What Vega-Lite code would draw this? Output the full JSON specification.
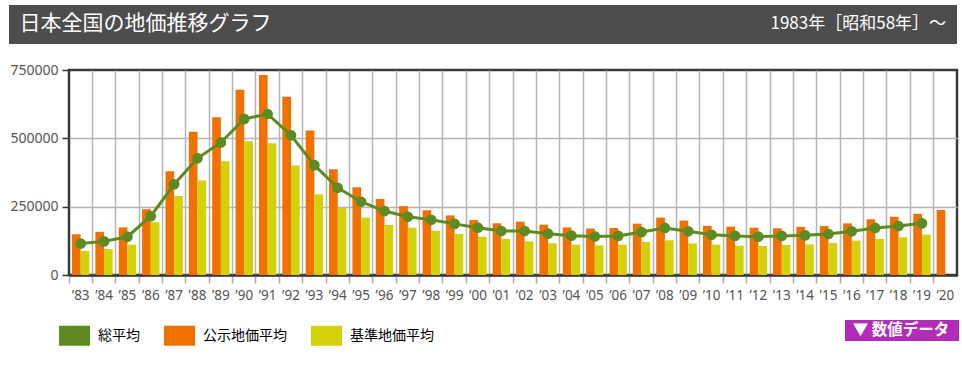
{
  "$schema": "https://vega.github.io/schema/vega-lite/v6.json",
  "autosize": {"type": "none"},
  "padding": {"left": 69, "top": 70, "right": 5, "bottom": 96},
  "width": 888,
  "height": 205,
  "background": "white",
  "config": {
    "font": "Noto Sans CJK JP",
    "view": {"stroke": "#3a3a3a", "strokeWidth": 2.5}
  },
  "datasets": {
    "land": [
      {"year": "’83", "kouji": 149000, "kijun": 88000, "avg": 115000},
      {"year": "’84", "kouji": 158000, "kijun": 95000, "avg": 123000},
      {"year": "’85", "kouji": 174000, "kijun": 111000, "avg": 140000},
      {"year": "’86", "kouji": 241000, "kijun": 193000, "avg": 215000},
      {"year": "’87", "kouji": 380000, "kijun": 289000, "avg": 332000},
      {"year": "’88", "kouji": 524000, "kijun": 346000, "avg": 427000},
      {"year": "’89", "kouji": 577000, "kijun": 416000, "avg": 485000},
      {"year": "’90", "kouji": 678000, "kijun": 489000, "avg": 571000},
      {"year": "’91", "kouji": 732000, "kijun": 482000, "avg": 589000},
      {"year": "’92", "kouji": 652000, "kijun": 401000, "avg": 511000},
      {"year": "’93", "kouji": 529000, "kijun": 295000, "avg": 402000},
      {"year": "’94", "kouji": 387000, "kijun": 245000, "avg": 319000},
      {"year": "’95", "kouji": 321000, "kijun": 210000, "avg": 268000},
      {"year": "’96", "kouji": 278000, "kijun": 183000, "avg": 234000},
      {"year": "’97", "kouji": 252000, "kijun": 173000, "avg": 213000},
      {"year": "’98", "kouji": 237000, "kijun": 162000, "avg": 202000},
      {"year": "’99", "kouji": 218000, "kijun": 150000, "avg": 187000},
      {"year": "’00", "kouji": 201000, "kijun": 140000, "avg": 173000},
      {"year": "’01", "kouji": 189000, "kijun": 132000, "avg": 161000},
      {"year": "’02", "kouji": 195000, "kijun": 123000, "avg": 161000},
      {"year": "’03", "kouji": 184000, "kijun": 116000, "avg": 151000},
      {"year": "’04", "kouji": 174000, "kijun": 111000, "avg": 144000},
      {"year": "’05", "kouji": 170000, "kijun": 108000, "avg": 141000},
      {"year": "’06", "kouji": 172000, "kijun": 111000, "avg": 143000},
      {"year": "’07", "kouji": 188000, "kijun": 121000, "avg": 157000},
      {"year": "’08", "kouji": 210000, "kijun": 127000, "avg": 172000},
      {"year": "’09", "kouji": 199000, "kijun": 116000, "avg": 160000},
      {"year": "’10", "kouji": 180000, "kijun": 111000, "avg": 147000},
      {"year": "’11", "kouji": 177000, "kijun": 107000, "avg": 143000},
      {"year": "’12", "kouji": 173000, "kijun": 106000, "avg": 140000},
      {"year": "’13", "kouji": 171000, "kijun": 110000, "avg": 143000},
      {"year": "’14", "kouji": 176000, "kijun": 112000, "avg": 145000},
      {"year": "’15", "kouji": 179000, "kijun": 117000, "avg": 150000},
      {"year": "’16", "kouji": 189000, "kijun": 126000, "avg": 160000},
      {"year": "’17", "kouji": 204000, "kijun": 132000, "avg": 172000},
      {"year": "’18", "kouji": 213000, "kijun": 138000, "avg": 179000},
      {"year": "’19", "kouji": 224000, "kijun": 148000, "avg": 189000},
      {"year": "’20", "kouji": 238000, "kijun": null, "avg": null}
    ]
  },
  "layer": [
    {
      "data": {"name": "land"},
      "transform": [
        {"fold": ["kouji", "kijun"], "as": ["series", "value"]},
        {"filter": "isValid(datum.value)"}
      ],
      "mark": {"type": "bar"},
      "encoding": {
        "x": {
          "field": "year", "type": "ordinal",
          "scale": {"domain": ["’83","’84","’85","’86","’87","’88","’89","’90","’91","’92","’93","’94","’95","’96","’97","’98","’99","’00","’01","’02","’03","’04","’05","’06","’07","’08","’09","’10","’11","’12","’13","’14","’15","’16","’17","’18","’19","’20"], "paddingInner": 0, "paddingOuter": 0},
          "axis": {"title": null, "labelAngle": 0, "bandPosition": 0, "grid": true, "gridColor": "#b4b4b4", "gridWidth": 1.5, "gridOpacity": {"condition": {"test": "datum.index === 0", "value": 0}, "value": 1}, "ticks": true, "tickSize": 8, "tickColor": "#aaaaaa", "tickWidth": 1.5, "labelFontSize": 13.5, "labelColor": "#555555", "labelFont": "Noto Sans", "labelPadding": 5, "labelBaseline": "top", "domainColor": "#3a3a3a", "domainWidth": 2.5}
        },
        "xOffset": {"field": "series", "type": "nominal", "scale": {"domain": ["kouji", "kijun"], "paddingInner": 0, "paddingOuter": 0.345}},
        "y": {
          "field": "value", "type": "quantitative",
          "scale": {"domain": [0, 750000], "nice": false},
          "axis": {"title": null, "values": [0, 250000, 500000, 750000], "format": "d", "grid": true, "gridColor": "#b4b4b4", "gridWidth": 1.5, "gridOpacity": {"condition": {"test": "datum.value === 0 || datum.value === 750000", "value": 0}, "value": 1}, "ticks": true, "tickSize": 7, "tickColor": "#333333", "tickWidth": 1.5, "domain": false, "labelPadding": 4, "labelFontSize": 14, "labelColor": "#555555", "labelFont": "Noto Sans"}
        },
        "color": {
          "field": "series", "type": "nominal",
          "scale": {"domain": ["avg", "kouji", "kijun"], "range": ["#5e8a22", "#f07000", "#d3d20a"]},
          "legend": {
            "title": null, "orient": "none", "legendX": -10, "legendY": 250, "direction": "horizontal",
            "symbolType": "M-1,-0.645H1V0.645H-1Z", "symbolSize": 961, "symbolStrokeWidth": 0, "symbolOpacity": 1,
            "labelExpr": "{'avg':'総平均','kouji':'公示地価平均','kijun':'基準地価平均'}[datum.value]",
            "labelFontSize": 14, "labelColor": "#000000", "labelFont": "Noto Sans CJK JP", "labelOffset": 8, "columnPadding": 24, "padding": 0, "labelLimit": 200
          }
        }
      }
    },
    {
      "data": {"name": "land"},
      "transform": [{"filter": "isValid(datum.avg)"}],
      "mark": {"type": "line", "color": "#5e8a22", "strokeWidth": 3},
      "encoding": {
        "x": {"field": "year", "type": "ordinal"},
        "y": {"field": "avg", "type": "quantitative"}
      }
    },
    {
      "data": {"name": "land"},
      "transform": [{"filter": "isValid(datum.avg)"}],
      "mark": {"type": "point", "filled": true, "color": "#5e8a22", "size": 115, "opacity": 1},
      "encoding": {
        "x": {"field": "year", "type": "ordinal"},
        "y": {"field": "avg", "type": "quantitative"}
      }
    },
    {
      "data": {"values": [{"h": "1983年［昭和58年］～\u00a0"}]},
      "mark": {"type": "point", "opacity": 0},
      "encoding": {
        "strokeDash": {
          "field": "h", "type": "nominal",
          "legend": {"title": "日本全国の地価推移グラフ", "titleOrient": "left", "titleColor": "#ffffff", "titleFontSize": 21, "titleFont": "Noto Sans CJK JP", "titleFontWeight": "normal", "titleLimit": 400, "titlePadding": 482, "labelColor": "#ffffff", "labelFontSize": 17, "labelFont": "Noto Sans CJK JP", "labelLimit": 300, "labelOffset": 0, "symbolSize": 0, "symbolOpacity": 0, "symbolStrokeWidth": 0, "fillColor": "#4d4d4d", "padding": 10.5, "orient": "none", "legendX": -60, "legendY": -65}
        }
      }
    },
    {
      "data": {"values": [{"b": "▼ 数値データ"}]},
      "mark": {"type": "point", "opacity": 0},
      "encoding": {
        "shape": {
          "field": "b", "type": "nominal",
          "legend": {"title": null, "orient": "none", "legendX": 776, "legendY": 250, "fillColor": "#b12cb9", "padding": 2.25, "symbolSize": 0, "symbolOpacity": 0, "symbolStrokeWidth": 0, "symbolOffset": 101, "labelColor": "#ffffff", "labelFontWeight": "bold", "labelFontSize": 15.5, "labelFont": "Noto Sans CJK JP", "labelOffset": -111, "labelLimit": 300}
        }
      }
    }
  ]
}
